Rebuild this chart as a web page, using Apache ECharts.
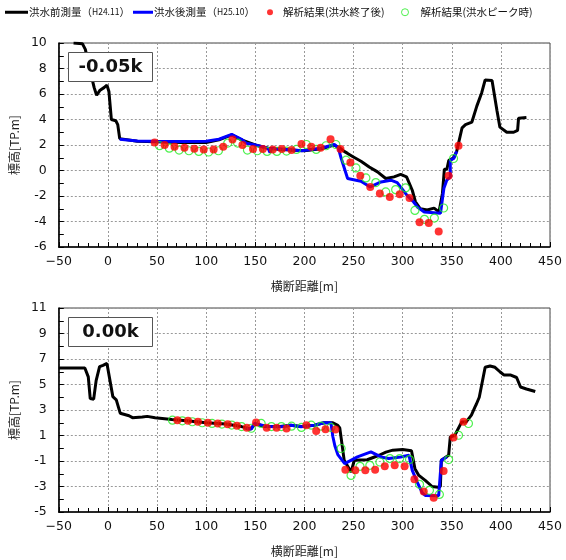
<!DOCTYPE html>
<html><head><meta charset="utf-8">
<script src="https://cdn.jsdelivr.net/npm/echarts@6/dist/echarts.min.js"></script>
<style>html,body{margin:0;padding:0;background:#fff}#c{width:566px;height:560px}</style>
</head><body><div id="c"></div>
<script>
const xTicks = [-50, 0, 50, 100, 150, 200, 250, 300, 350, 400, 450];
const yTicksTop = [-6, -4, -2, 0, 2, 4, 6, 8, 10];
const yTicksBottom = [-5, -3, -1, 1, 3, 5, 7, 9, 11];
const seriesNames = ['洪水前測量', '洪水後測量', '解析結果(洪水終了後)', '解析結果(洪水ピーク時)'];
const sectionLabels = ['-0.05k', '0.00k'];

const topPre = [[-35,10.0],[-26,9.95],[-23,9.5],[-18,7.8],[-14,6.5],[-11.5,5.9],[-8,6.3],[-4,6.5],[-1,6.7],[1,6.2],[3.5,4.0],[8,3.9],[10,3.6],[12,2.5],[14,2.4],[30,2.3],[49,2.25],[75,2.2],[100,2.2],[113,2.4],[126,2.8],[136,2.4],[150,2.0],[163,1.75],[176,1.65],[200,1.55],[217,1.7],[230,2.0],[235.5,1.8],[240.5,1.5],[244,1.34],[249,1.1],[257.6,0.73],[266,0.28],[274.4,-0.11],[282.8,-0.63],[291.2,-0.5],[298,-0.31],[304,-0.5],[309.8,-1.55],[313,-2.45],[318,-3.0],[325,-3.1],[332,-2.95],[337,-3.25],[339,-3.4],[340.5,-1.8],[342.5,0.1],[345,0.1],[347,0.8],[352,1.0],[355,1.5],[360.5,3.35],[364,3.6],[370.5,3.8],[375.5,5.05],[380.5,6.1],[384,7.1],[391,7.05],[396,4.7],[399,3.4],[406,3.0],[413,3.0],[417,3.15],[418,4.1],[426,4.15]];
const topPost = [[12,2.45],[30,2.32],[49,2.3],[75,2.28],[100,2.3],[113,2.45],[126,2.83],[136,2.45],[141,2.13],[150,2.0],[163,1.75],[165,1.4],[166.5,1.75],[177,1.68],[197,1.55],[217,1.75],[230.5,2.04],[234.5,1.78],[237.5,0.94],[244,-0.63],[257.5,-0.84],[267,-1.29],[278,-0.9],[288,-0.76],[294.5,-0.95],[304.5,-1.95],[311,-2.45],[315,-2.86],[322,-3.25],[338.5,-3.35],[342,-1.4],[345,-0.75],[348.5,-0.5],[348.5,0.8],[352,0.95],[355,1.5]];
const topEnd = [[47.6,2.2],[57.7,2.0],[67.8,1.86],[77.9,1.78],[88,1.7],[97.5,1.65],[107.6,1.65],[117.4,1.86],[126.8,2.44],[136.9,2.0],[147.7,1.68],[157.7,1.68],[167.8,1.65],[177,1.68],[186.9,1.6],[197,2.07],[207,1.86],[216.5,1.78],[226.6,2.46],[236.7,1.68],[246.8,0.63],[256.9,-0.42],[267,-1.29],[276.8,-1.81],[286.9,-2.07],[297,-1.87],[307,-2.16],[317.2,-4.05],[326.6,-4.12],[336.7,-4.78],[346.8,-0.42],[356.9,1.94]];
const topPeak = [[52.5,1.95],[62.5,1.75],[72.5,1.6],[82.5,1.55],[92.5,1.5],[102.5,1.45],[112.5,1.55],[122,2.15],[132,2.15],[142,1.6],[152,1.55],[162,1.5],[172,1.5],[181.8,1.52],[191.9,1.65],[202,2.04],[212,1.65],[222,1.94],[232,2.04],[242.4,0.81],[252.5,0.2],[262.6,-0.58],[272.7,-0.95],[282.8,-1.68],[292.9,-1.5],[303,-1.37],[312.5,-3.13],[322.2,-3.83],[332.3,-3.73],[341.7,-2.94],[351.8,0.94]];

const botPre = [[-50,6.3],[-23.5,6.3],[-20,5.6],[-18,3.9],[-14.5,3.85],[-12,5.3],[-8.5,6.4],[-5,6.5],[-1,6.65],[1,6.5],[5,4.05],[8.5,3.8],[10,3.75],[12.5,2.75],[14.5,2.6],[21.5,2.55],[25,2.4],[35,2.45],[40,2.5],[48,2.4],[65,2.25],[80,2.15],[100,2.0],[120,1.9],[136,1.7],[145,1.5],[150,1.9],[160,1.7],[175,1.7],[186,1.8],[197,1.7],[210,1.8],[220,2.0],[229,2.0],[234,1.8],[236,1.6],[240.5,-0.95],[247.5,-1.87],[250.8,-0.94],[264,-0.9],[276,-0.55],[283,-0.3],[290,-0.15],[300,-0.1],[309,-0.2],[312.5,-1.6],[316.5,-2.13],[323,-2.52],[330,-3.0],[336,-3.05],[338.4,-3.0],[339.4,-0.94],[346.8,-0.55],[348.5,0.89],[353,1.0],[360,2.05],[364.5,2.05],[370,2.6],[372,2.73],[373.7,3.25],[375,3.45],[378,4.0],[384,6.35],[389,6.45],[394,6.35],[399,6.0],[403,5.75],[409.5,5.75],[416,5.55],[420,4.8],[426,4.65],[435,4.45]];
const botPost = [[140,1.55],[146,1.5],[149,1.95],[155,1.85],[162,1.7],[176,1.68],[186.5,1.8],[196.6,1.68],[210,1.8],[220,2.0],[227,2.0],[229,0.9],[231,0.2],[234,-0.5],[241,-1.2],[254,-0.68],[267.7,-0.29],[277.8,-0.68],[286,-0.81],[298,-0.68],[306.4,-0.55],[309.8,-1.73],[314.8,-2.65],[320,-3.5],[323,-3.7],[336.7,-3.72],[339.4,-0.94],[345,-0.68]];
const botEnd = [[70.7,2.2],[81.5,2.15],[91.6,2.07],[101.7,2.0],[111.8,1.95],[121.9,1.89],[131.3,1.76],[141.4,1.6],[150.8,2.02],[161.6,1.6],[171.7,1.6],[181.8,1.55],[202,1.81],[212,1.36],[221.5,1.5],[231.6,1.48],[241.7,-1.68],[251.8,-1.73],[262,-1.73],[272,-1.68],[281.8,-1.42],[291.9,-1.34],[302,-1.42],[312,-2.44],[321.5,-3.4],[331.6,-3.88],[341.7,-1.79],[351.8,0.84],[362,2.07]];
const botPeak = [[65.7,2.2],[75.8,2.15],[85.9,2.08],[96,2.0],[106,1.95],[116,1.9],[126,1.82],[136,1.7],[146,1.57],[156,1.95],[166.4,1.7],[176.5,1.7],[186.9,1.73],[197,1.63],[207,1.81],[217,1.73],[227,1.63],[237.4,-0.02],[247.5,-2.13],[256.6,-1.42],[266.6,-1.34],[276.8,-1.08],[287,-0.81],[297,-0.81],[307,-0.89],[317.2,-2.83],[327.3,-3.3],[337.4,-3.62],[346.8,-0.89],[356.9,1.02],[367,1.94]];

const legendSub = ['H24.11', 'H25.10'];
const COL = {pre:'#000000', post:'#0000ff', end:'#ff0000', peak:'#22ee22'};
const FONT = '"DejaVu Sans", sans-serif';
const JFONT = '"Noto Sans CJK JP", sans-serif';

function xAxis(gi) {
  return {
    type:'value', gridIndex:gi, min:xTicks[0], max:xTicks[xTicks.length-1], interval:50,
    name:'横断距離[m]', nameLocation:'middle', nameGap:33,
    nameTextStyle:{fontFamily:JFONT, fontSize:12, color:'#222'},
    axisLine:{show:true, onZero:false, lineStyle:{color:'#000', width:1.5}},
    axisTick:{show:true, inside:true, length:5, lineStyle:{color:'#000', width:1}},
    minorTick:{show:true, splitNumber:5, length:4, lineStyle:{color:'#000', width:1}},
    axisLabel:{fontFamily:FONT, fontSize:12.5, color:'#111', margin:8,
      formatter: v => (v < 0 ? '\u2212' + Math.abs(v) : String(v))},
    splitLine:{show:true, lineStyle:{color:'#999', type:[2,2], width:1}}
  };
}
function yAxis(gi, ticks) {
  return {
    type:'value', gridIndex:gi, min:ticks[0], max:ticks[ticks.length-1], interval:2,
    name:'標高[TP.m]', nameLocation:'middle', nameGap:32, nameRotate:90,
    nameTextStyle:{fontFamily:JFONT, fontSize:12, color:'#222'},
    axisLine:{show:true, onZero:false, lineStyle:{color:'#000', width:1.5}},
    axisTick:{show:true, inside:true, length:5, lineStyle:{color:'#000', width:1}},
    minorTick:{show:true, splitNumber:2, length:5, lineStyle:{color:'#000', width:1}},
    axisLabel:{fontFamily:FONT, fontSize:12.5, color:'#111', margin:12},
    splitLine:{show:true, lineStyle:{color:'#999', type:[2,2], width:1}}
  };
}
function lineS(name, data, gi, color, z) {
  return {type:'line', name, data, xAxisIndex:gi, yAxisIndex:gi, symbol:'none', smooth:false,
    lineStyle:{color, width:3}, itemStyle:{color}, z, animation:false};
}
function dotS(name, data, gi) {
  return {type:'scatter', name, data, xAxisIndex:gi, yAxisIndex:gi, symbol:'circle', symbolSize:8,
    itemStyle:{color:COL.end}, z:5, animation:false};
}
function ringS(name, data, gi) {
  return {type:'scatter', name, data, xAxisIndex:gi, yAxisIndex:gi, symbol:'circle', symbolSize:8,
    itemStyle:{color:'rgba(0,0,0,0)', borderColor:COL.peak, borderWidth:1.2}, z:4, animation:false};
}
function legendItem(name, left, icon, w, h, style, sub, pad) {
  return {
    data:[{name, icon, itemStyle:style}], left, top:7, itemWidth:w, itemHeight:h, itemGap:0, padding:0,
    selectedMode:false,
    textStyle:{fontFamily:JFONT, fontSize:10.5, color:'#111', padding:[0,0,0,pad],
      rich:{s:{fontFamily:JFONT, fontSize:8.5, color:'#111'}}},
    formatter: n => sub ? n + '（{s|' + sub + '}）' : n
  };
}
function labelBox(top, text) {
  return {type:'group', left:68, top, z:100, children:[
    {type:'rect', z:100, shape:{x:0, y:0, width:84, height:29}, style:{fill:'#fff', stroke:'#555', lineWidth:1}},
    {type:'text', z:101, x:42, y:15, style:{text, fontFamily:FONT, fontWeight:'bold', fontSize:18, fill:'#111', align:'center', verticalAlign:'middle'}}
  ]};
}

const chart = echarts.init(document.getElementById('c'), null, {renderer:'canvas'});
chart.setOption({
  animation:false,
  backgroundColor:'#fff',
  legend:[
    legendItem(seriesNames[0], 5, 'rect', 23, 3, {color:COL.pre}, legendSub[0], -4),
    legendItem(seriesNames[1], 133, 'rect', 20, 3, {color:COL.post}, legendSub[1], -4),
    legendItem(seriesNames[2], 267, 'circle', 6, 6, {color:COL.end}, null, 5),
    legendItem(seriesNames[3], 401, 'circle', 7, 7, {color:'rgba(0,0,0,0)', borderColor:COL.peak, borderWidth:1}, null, 7)
  ],
  grid:[
    {left:55, right:16, top:43, height:204, show:true, borderColor:'#444', borderWidth:1},
    {left:55, right:16, top:308, height:204, show:true, borderColor:'#444', borderWidth:1}
  ],
  xAxis:[xAxis(0), xAxis(1)],
  yAxis:[yAxis(0, yTicksTop), yAxis(1, yTicksBottom)],
  series:[
    lineS(seriesNames[0], topPre, 0, COL.pre, 2),
    lineS(seriesNames[1], topPost, 0, COL.post, 3),
    ringS(seriesNames[3], topPeak, 0),
    dotS(seriesNames[2], topEnd, 0),
    lineS(seriesNames[0], botPre, 1, COL.pre, 2),
    lineS(seriesNames[1], botPost, 1, COL.post, 3),
    ringS(seriesNames[3], botPeak, 1),
    dotS(seriesNames[2], botEnd, 1)
  ],
  graphic:[labelBox(52, sectionLabels[0]), labelBox(317, sectionLabels[1])]
});
</script></body></html>
